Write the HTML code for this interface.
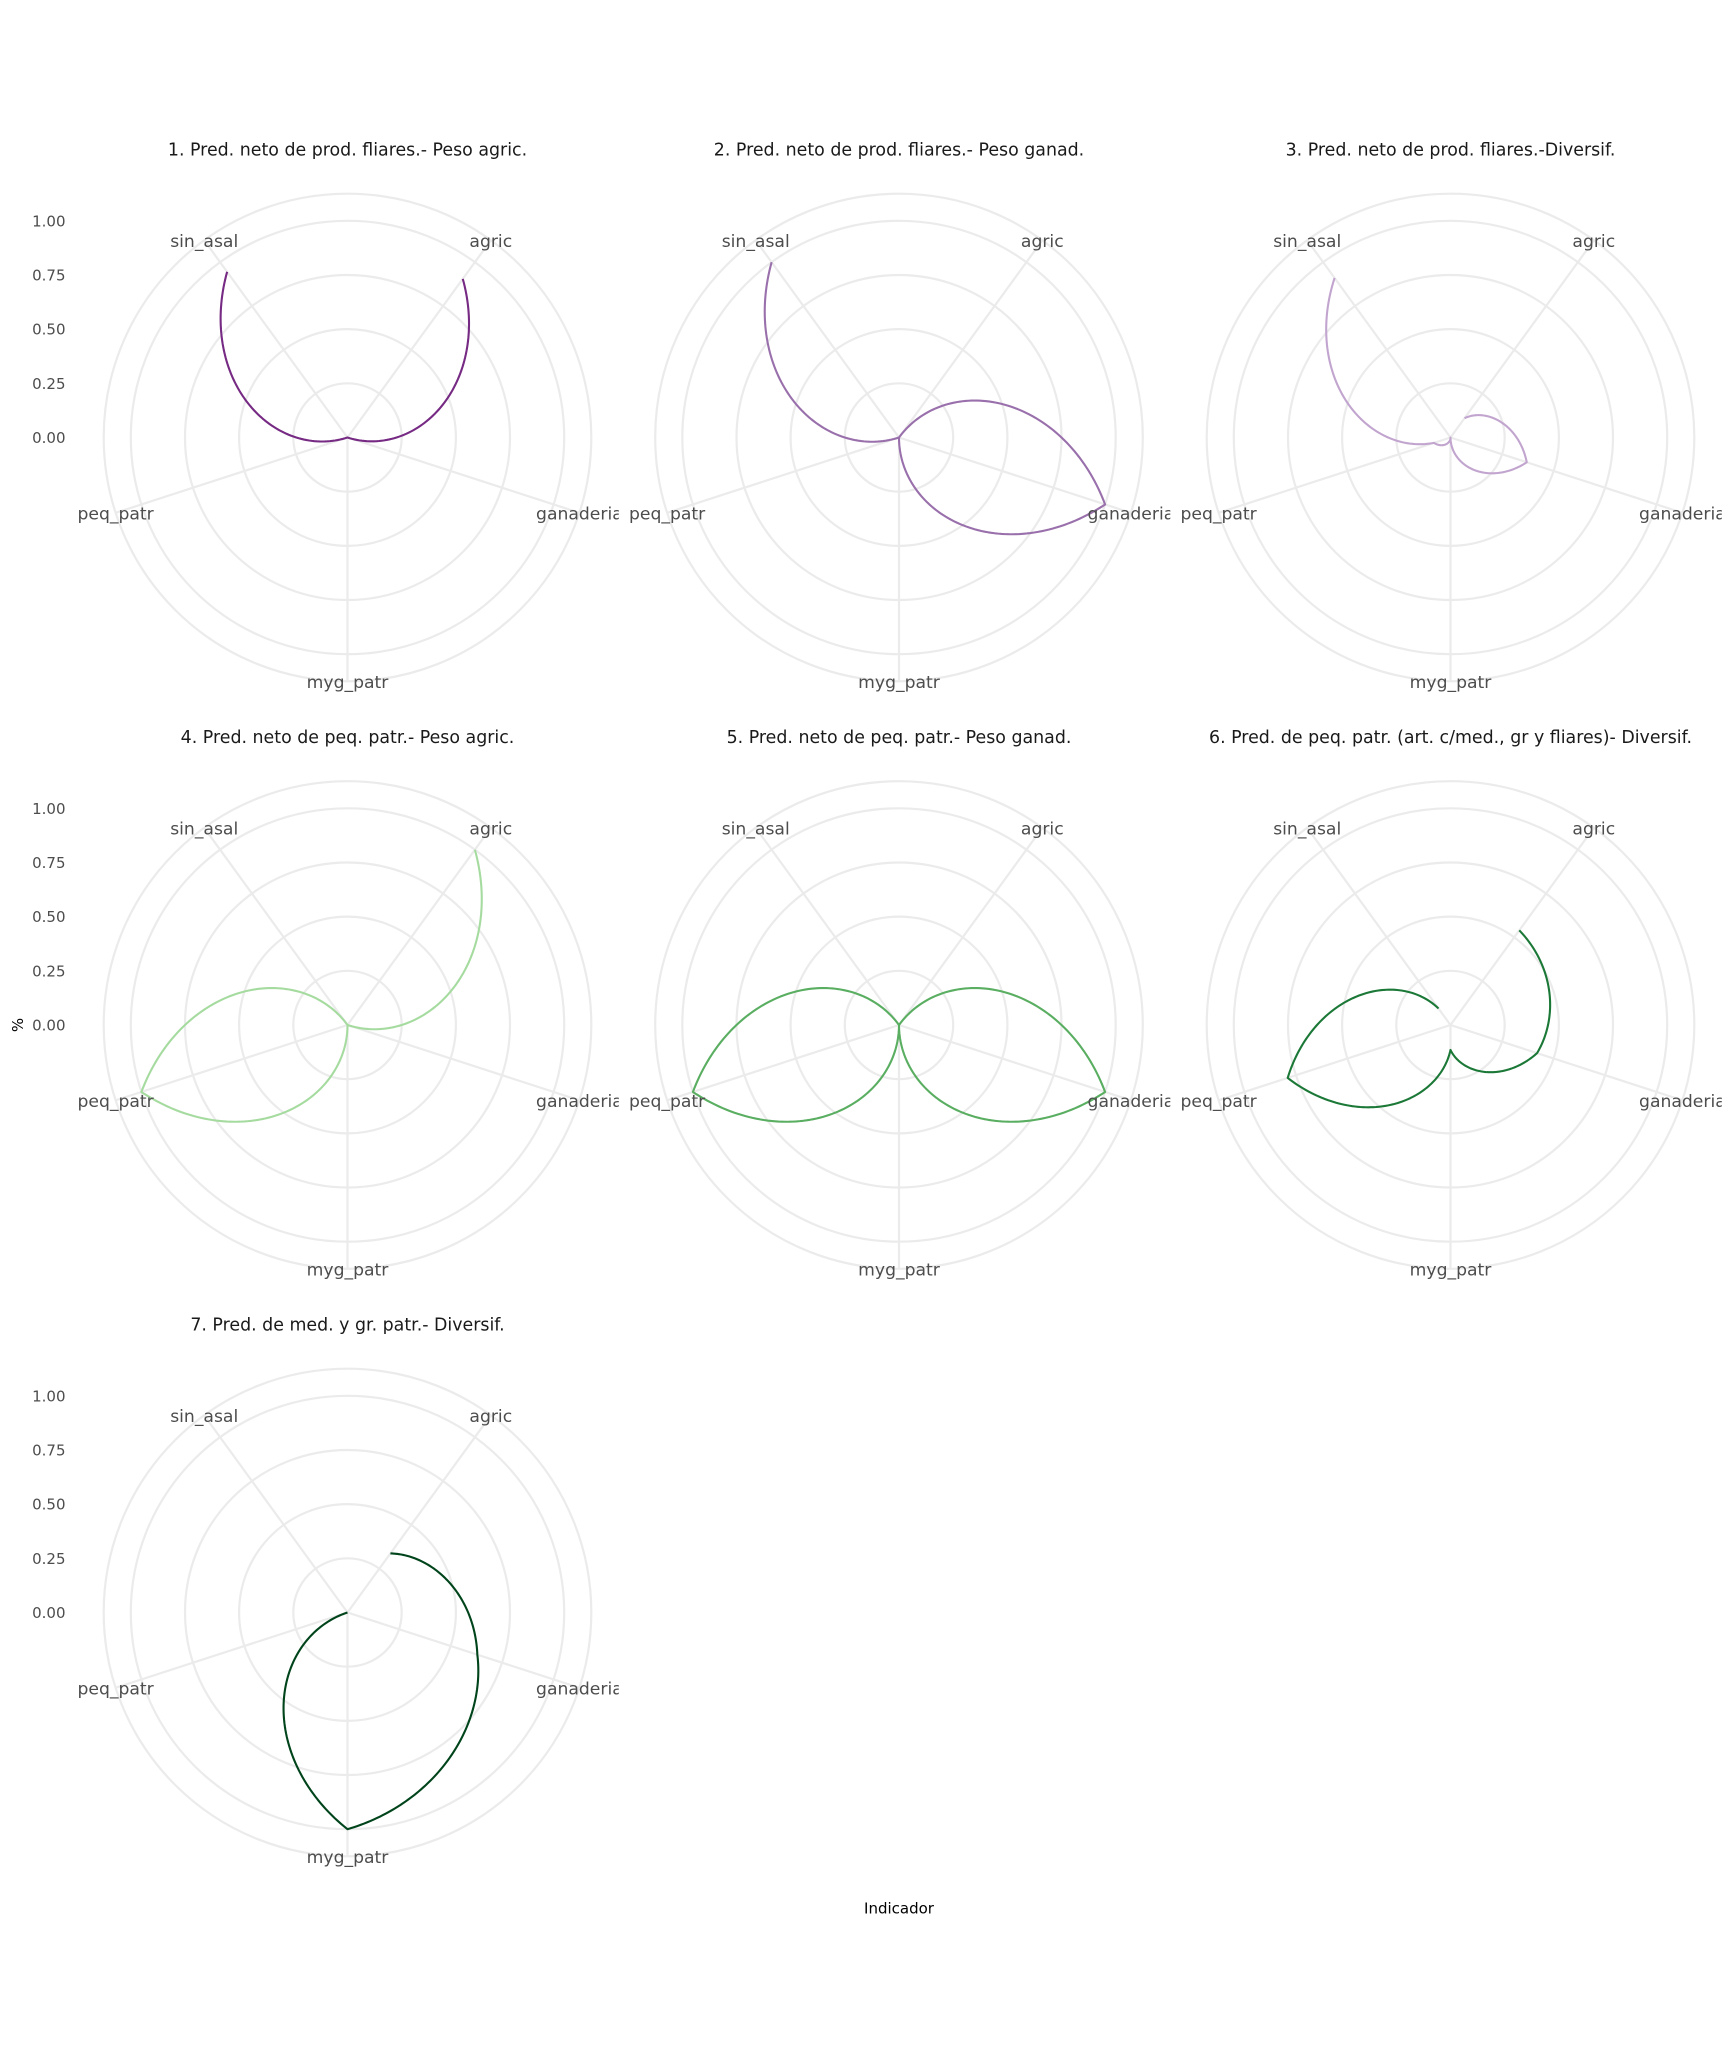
<!DOCTYPE html>
<html>
<head>
<meta charset="utf-8">
<style>
html,body{margin:0;padding:0;background:#ffffff;}
svg{display:block;}
</style>
</head>
<body>
<svg width="1733" height="2048" viewBox="0 0 1733 2048" xmlns="http://www.w3.org/2000/svg" font-family="'DejaVu Sans', 'Liberation Sans', sans-serif">
<defs>
  <clipPath id="pc" clipPathUnits="userSpaceOnUse"><rect x="-271.3" y="-271.3" width="542.6" height="542.6"/></clipPath>
  <g id="grid">
    <g fill="none" stroke="#EBEBEB" stroke-width="2.2">
      <circle r="54.2"/><circle r="108.4"/><circle r="162.5"/><circle r="216.7"/><circle r="243.8"/>
      <path d="M0 0L143.3 -197.2M0 0L231.9 75.3M0 0L0 243.8M0 0L-231.9 75.3M0 0L-143.3 -197.2"/>
    </g>
  </g>
</defs>
<rect x="0" y="0" width="1733" height="2048" fill="#ffffff"/>

<!-- Strip titles -->
<g fill="#1A1A1A" font-size="17.4" text-anchor="middle">
  <text x="347.5" y="155.7">1. Pred. neto de prod. fliares.- Peso agric.</text>
  <text x="899" y="155.7">2. Pred. neto de prod. fliares.- Peso ganad.</text>
  <text x="1450.5" y="155.7">3. Pred. neto de prod. fliares.-Diversif.</text>
  <text x="347.5" y="743.2">4. Pred. neto de peq. patr.- Peso agric.</text>
  <text x="899" y="743.2">5. Pred. neto de peq. patr.- Peso ganad.</text>
  <text x="1450.5" y="743.2">6. Pred. de peq. patr. (art. c/med., gr y fliares)- Diversif.</text>
  <text x="347.5" y="1330.7">7. Pred. de med. y gr. patr.- Diversif.</text>
</g>

<!-- Y axis labels -->
<g fill="#4D4D4D" font-size="15" text-anchor="end">
  <text x="65.5" y="443">0.00</text>
  <text x="65.5" y="388.8">0.25</text>
  <text x="65.5" y="334.7">0.50</text>
  <text x="65.5" y="280.5">0.75</text>
  <text x="65.5" y="226.3">1.00</text>

  <text x="65.5" y="1030.5">0.00</text>
  <text x="65.5" y="976.3">0.25</text>
  <text x="65.5" y="922.2">0.50</text>
  <text x="65.5" y="868">0.75</text>
  <text x="65.5" y="813.8">1.00</text>

  <text x="65.5" y="1618">0.00</text>
  <text x="65.5" y="1563.8">0.25</text>
  <text x="65.5" y="1509.7">0.50</text>
  <text x="65.5" y="1455.5">0.75</text>
  <text x="65.5" y="1401.3">1.00</text>
</g>

<!-- Axis titles -->
<text x="0" y="0" font-size="15" fill="#000000" text-anchor="middle" transform="translate(23,1025) rotate(-90)">%</text>
<text x="899" y="1913.7" font-size="15" fill="#000000" text-anchor="middle">Indicador</text>

<!-- Panel 1 -->
<g transform="translate(347.5,437.5)" clip-path="url(#pc)">
  <use href="#grid"/>
  <path id="p1" fill="none" stroke="#762a83" stroke-width="2.1" stroke-linejoin="round" d=""/>
  <g fill="#4D4D4D" font-size="17.2" text-anchor="middle">
    <text x="143.3" y="-190.7">agric</text><text x="231.9" y="81.8">ganaderia</text><text x="0" y="250.3">myg_patr</text><text x="-231.9" y="81.8">peq_patr</text><text x="-143.3" y="-190.7">sin_asal</text>
  </g>
</g>
<!-- Panel 2 -->
<g transform="translate(899,437.5)" clip-path="url(#pc)">
  <use href="#grid"/>
  <path id="p2" fill="none" stroke="#9970ab" stroke-width="2.1" stroke-linejoin="round" d=""/>
  <g fill="#4D4D4D" font-size="17.2" text-anchor="middle">
    <text x="143.3" y="-190.7">agric</text><text x="231.9" y="81.8">ganaderia</text><text x="0" y="250.3">myg_patr</text><text x="-231.9" y="81.8">peq_patr</text><text x="-143.3" y="-190.7">sin_asal</text>
  </g>
</g>
<!-- Panel 3 -->
<g transform="translate(1450.5,437.5)" clip-path="url(#pc)">
  <use href="#grid"/>
  <path id="p3" fill="none" stroke="#c2a5cf" stroke-width="2.1" stroke-linejoin="round" d=""/>
  <g fill="#4D4D4D" font-size="17.2" text-anchor="middle">
    <text x="143.3" y="-190.7">agric</text><text x="231.9" y="81.8">ganaderia</text><text x="0" y="250.3">myg_patr</text><text x="-231.9" y="81.8">peq_patr</text><text x="-143.3" y="-190.7">sin_asal</text>
  </g>
</g>
<!-- Panel 4 -->
<g transform="translate(347.5,1025)" clip-path="url(#pc)">
  <use href="#grid"/>
  <path id="p4" fill="none" stroke="#a6dba0" stroke-width="2.1" stroke-linejoin="round" d=""/>
  <g fill="#4D4D4D" font-size="17.2" text-anchor="middle">
    <text x="143.3" y="-190.7">agric</text><text x="231.9" y="81.8">ganaderia</text><text x="0" y="250.3">myg_patr</text><text x="-231.9" y="81.8">peq_patr</text><text x="-143.3" y="-190.7">sin_asal</text>
  </g>
</g>
<!-- Panel 5 -->
<g transform="translate(899,1025)" clip-path="url(#pc)">
  <use href="#grid"/>
  <path id="p5" fill="none" stroke="#5aae61" stroke-width="2.1" stroke-linejoin="round" d=""/>
  <g fill="#4D4D4D" font-size="17.2" text-anchor="middle">
    <text x="143.3" y="-190.7">agric</text><text x="231.9" y="81.8">ganaderia</text><text x="0" y="250.3">myg_patr</text><text x="-231.9" y="81.8">peq_patr</text><text x="-143.3" y="-190.7">sin_asal</text>
  </g>
</g>
<!-- Panel 6 -->
<g transform="translate(1450.5,1025)" clip-path="url(#pc)">
  <use href="#grid"/>
  <path id="p6" fill="none" stroke="#1b7837" stroke-width="2.1" stroke-linejoin="round" d=""/>
  <g fill="#4D4D4D" font-size="17.2" text-anchor="middle">
    <text x="143.3" y="-190.7">agric</text><text x="231.9" y="81.8">ganaderia</text><text x="0" y="250.3">myg_patr</text><text x="-231.9" y="81.8">peq_patr</text><text x="-143.3" y="-190.7">sin_asal</text>
  </g>
</g>
<!-- Panel 7 -->
<g transform="translate(347.5,1612.5)" clip-path="url(#pc)">
  <use href="#grid"/>
  <path id="p7" fill="none" stroke="#00441b" stroke-width="2.1" stroke-linejoin="round" d=""/>
  <g fill="#4D4D4D" font-size="17.2" text-anchor="middle">
    <text x="143.3" y="-190.7">agric</text><text x="231.9" y="81.8">ganaderia</text><text x="0" y="250.3">myg_patr</text><text x="-231.9" y="81.8">peq_patr</text><text x="-143.3" y="-190.7">sin_asal</text>
  </g>
</g>
</svg>
<script>
(function(){
  var U = 216.7;
  var data = {
    p1: [0.905, 0, 0, 0, 0.945],
    p2: [0, 1, 0, 0, 1],
    p3: [0.11, 0.37, 0, 0.08, 0.91],
    p4: [1, 0, 0, 1, 0],
    p5: [0, 1, 0, 1, 0],
    p6: [0.54, 0.42, 0.115, 0.79, 0.094],
    p7: [0.337, 0.63, 1, 0, 0]
  };
  function build(v){
    var d = '';
    var N = 80;
    for (var i = 0; i < 4; i++){
      var th1 = 36 + 72*i, r1 = v[i], r2 = v[i+1];
      for (var k = 0; k <= N; k++){
        if (i > 0 && k === 0) continue;
        var t = k / N;
        var th = (th1 + 72*t) * Math.PI / 180;
        var r = (r1 + (r2 - r1) * t) * U;
        var x = r * Math.sin(th), y = -r * Math.cos(th);
        d += (d ? 'L' : 'M') + x.toFixed(2) + ' ' + y.toFixed(2);
      }
    }
    return d;
  }
  for (var id in data){
    var el = document.getElementById(id);
    if (el) el.setAttribute('d', build(data[id]));
  }
})();
</script>
</body>
</html>
